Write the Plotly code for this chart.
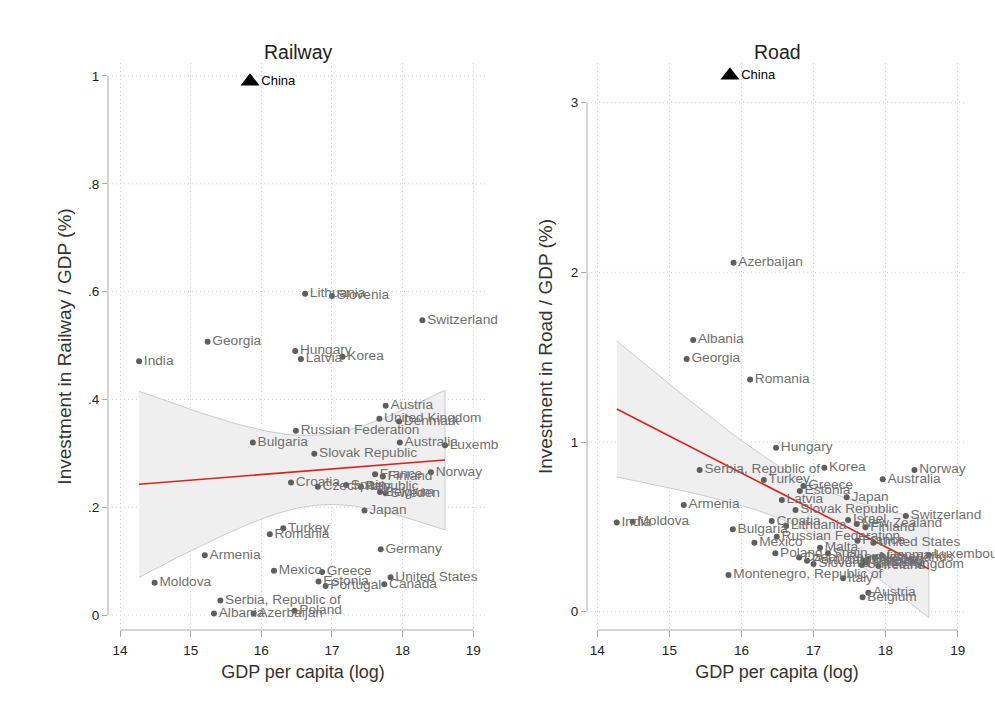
import numpy as np
import pandas as pd
import plotly.graph_objects as go

# ---------------------------------------------------------------------------
# Data: log GDP per capita and infrastructure investment shares (% of GDP)
# None = no observation for that mode
# ---------------------------------------------------------------------------
countries = [
    "Lithuania", "Slovenia", "Switzerland", "Georgia", "India", "Hungary",
    "Latvia", "Korea", "Austria", "United Kingdom", "Denmark",
    "Russian Federation", "Bulgaria", "Australia", "Luxembourg",
    "Slovak Republic", "France", "Finland", "Norway", "Croatia",
    "Czech Republic", "Spain", "Belgium", "Sweden", "Japan", "Turkey",
    "Romania", "Germany", "Armenia", "Mexico", "Greece", "Moldova", "Estonia",
    "Portugal", "United States", "Canada", "Serbia, Republic of", "Albania",
    "Azerbaijan", "Poland", "Israel", "New Zealand", "Malta", "Italy",
    "Montenegro, Republic of", "Ireland", "Netherlands",
]
gdp_log = [
    16.62, 17.00, 18.28, 15.24, 14.27, 16.48,
    16.56, 17.15, 17.76, 17.67, 17.95,
    16.49, 15.88, 17.96, 18.60,
    16.75, 17.61, 17.72, 18.40, 16.42,
    16.80, 17.20, 17.68, 17.76, 17.46, 16.31,
    16.12, 17.69, 15.20, 16.18, 16.86, 14.49, 16.81,
    16.91, 17.83, 17.74, 15.42, 15.33,
    15.89, 16.47, 17.48, 17.60, 17.09, 17.41,
    15.82, 17.90, 17.85,
]
rail_share = [
    0.596, 0.592, 0.547, 0.507, 0.471, 0.490,
    0.475, 0.479, 0.388, 0.364, 0.359,
    0.342, 0.320, 0.320, 0.315,
    0.299, 0.261, 0.257, 0.265, 0.246,
    0.238, 0.241, 0.228, 0.226, 0.194, 0.161,
    0.150, 0.122, 0.111, 0.082, 0.080, 0.060, 0.062,
    0.054, 0.070, 0.057, 0.027, 0.003,
    0.003, 0.008, None, None, None, 0.238,
    None, None, None,
]
road_share = [
    0.505, 0.281, 0.564, 1.489, 0.525, 0.966,
    0.658, 0.849, 0.112, 0.275, 0.330,
    0.442, 0.486, 0.780, 0.334,
    0.599, 0.418, 0.497, 0.835, 0.534,
    0.320, 0.344, 0.085, 0.310, 0.674, 0.776,
    1.369, 0.300, 0.629, 0.407, 0.741, 0.530, 0.711,
    0.300, 0.407, 0.290, 0.835, 1.601,
    2.057, 0.344, 0.540, 0.517, 0.377, 0.197,
    0.216, 0.270, 0.320,
]

# China is drawn with its own marker (it is still part of the fitted sample)
outlier_name = ["China"]
outlier_gdp = [15.84]
outlier_rail = [0.99]
outlier_road = [3.16]

df = pd.DataFrame({"country": countries, "gdp": gdp_log,
                   "rail": rail_share, "road": road_share})
df_out = pd.DataFrame({"country": outlier_name, "gdp": outlier_gdp,
                       "rail": outlier_rail, "road": outlier_road})

W, H = 995, 725
T_CRIT = 2.02  # 95% two-sided t quantile, ~40 d.f.


def linear_fit_ci(x, y, n_grid=120):
    x = np.asarray(x, float)
    y = np.asarray(y, float)
    n = len(x)
    slope, intercept = np.polyfit(x, y, 1)
    resid = y - (intercept + slope * x)
    s2 = np.sum(resid ** 2) / (n - 2)
    sxx = np.sum((x - x.mean()) ** 2)
    xs = np.linspace(x.min(), x.max(), n_grid)
    fit = intercept + slope * xs
    se = np.sqrt(s2 * (1.0 / n + (xs - x.mean()) ** 2 / sxx))
    return xs, fit, fit - T_CRIT * se, fit + T_CRIT * se


def px_x(p):
    return p / W


def px_y(p):
    return 1 - p / H


GRID = "#cdcdcd"
AXIS = "#a8a8a8"
DOT = "#5e5e5e"
LABEL = "#6f6f6f"
FONT = "Arial, Liberation Sans, sans-serif"
PLOT_TOP, PLOT_BOT = 63, 630

# region: plot area in px (grid extent); clip: right edge for label clipping
panels = [
    dict(col="rail", ax="", title="Railway", ytitle="Investment in Railway / GDP (%)",
         region=(108, 488), clip=498, xr=(13.830, 19.350), yr=(-0.0278, 1.0241),
         yt=[0, 0.2, 0.4, 0.6, 0.8, 1.0], ytt=["0", ".2", ".4", ".6", ".8", "1"],
         clip_text=True, ystand=11),
    dict(col="road", ax="2", title="Road", ytitle="Investment in Road / GDP (%)",
         region=(587, 967), clip=967, xr=(13.857, 19.129), yr=(-0.1078, 3.2334),
         yt=[0, 1, 2, 3], ytt=["0", "1", "2", "3"],
         clip_text=False, ystand=13),
]

fig = go.Figure()
layout = dict(
    width=W, height=H, margin=dict(l=0, r=0, t=0, b=0),
    paper_bgcolor="white", plot_bgcolor="white", showlegend=False,
    font=dict(family=FONT, color="#222222"),
)
shapes, annotations = [], []

for p in panels:
    col = p["col"]
    sub = df.dropna(subset=[col])
    xa, ya = "x" + p["ax"], "y" + p["ax"]
    fit_x = pd.concat([sub["gdp"], df_out["gdp"]])
    fit_y = pd.concat([sub[col], df_out[col]])
    xs, fit, lo, hi = linear_fit_ci(fit_x, fit_y)

    # confidence band
    fig.add_trace(go.Scatter(
        x=np.concatenate([xs, xs[::-1]]), y=np.concatenate([hi, lo[::-1]]),
        fill="toself", fillcolor="#efefef", mode="lines",
        line=dict(color="#cccccc", width=1), hoverinfo="skip",
        xaxis=xa, yaxis=ya))
    # fitted line
    fig.add_trace(go.Scatter(
        x=xs, y=fit, mode="lines", line=dict(color="#e0201b", width=1.6),
        xaxis=xa, yaxis=ya))
    # countries
    fig.add_trace(go.Scatter(
        x=sub["gdp"], y=sub[col], text=sub["country"],
        mode="markers+text", textposition="middle right",
        marker=dict(color=DOT, size=6),
        textfont=dict(color=LABEL, size=13.7, family=FONT),
        cliponaxis=p["clip_text"], xaxis=xa, yaxis=ya))
    # China
    fig.add_trace(go.Scatter(
        x=df_out["gdp"], y=df_out[col], text=df_out["country"],
        mode="markers+text", textposition="middle right",
        marker=dict(color="black", size=16.5, symbol="triangle-up"),
        textfont=dict(color="black", size=13, family=FONT),
        cliponaxis=False, xaxis=xa, yaxis=ya))

    x0, x1 = p["region"]
    dom = [px_x(x0), px_x(p["clip"])]
    layout["xaxis" + p["ax"]] = dict(
        domain=dom, range=list(p["xr"]), anchor=ya,
        tickvals=[14, 15, 16, 17, 18, 19], ticks="outside", ticklen=6,
        tickcolor=AXIS, showline=False, zeroline=False,
        showgrid=True, gridcolor=GRID, griddash="1px,3px", gridwidth=1,
        tickfont=dict(size=13.5, color="#1e1e1e"), ticklabelstandoff=2,
        title=dict(text="GDP per capita (log)", font=dict(size=18, color="#333333"),
                   standoff=8),
        automargin=False)
    layout["yaxis" + p["ax"]] = dict(
        domain=[px_y(PLOT_BOT), px_y(PLOT_TOP)], range=list(p["yr"]),
        anchor=xa, tickvals=p["yt"], ticktext=p["ytt"], ticks="outside",
        ticklen=5, tickcolor=AXIS, showline=False, zeroline=False,
        showgrid=False,
        tickfont=dict(size=13.5, color="#1e1e1e"),
        title=dict(text=p["ytitle"], font=dict(size=19, color="#333333"),
                   standoff=p["ystand"]),
        automargin=False)

    # horizontal dotted grid over the plot region only
    for v in p["yt"]:
        shapes.append(dict(type="line", xref="paper", yref=ya, layer="below",
                           x0=px_x(x0 + 4), x1=px_x(x1), y0=v, y1=v,
                           line=dict(color=GRID, width=1, dash="1px,3px")))
    # Stata-style axis lines spanning only the labelled range
    shapes.append(dict(type="line", xref="paper", yref=ya,
                       x0=dom[0], x1=dom[0], y0=p["yt"][0], y1=p["yt"][-1],
                       line=dict(color=AXIS, width=1)))
    shapes.append(dict(type="line", xref=xa, yref="paper",
                       x0=14, x1=19, y0=px_y(PLOT_BOT), y1=px_y(PLOT_BOT),
                       line=dict(color=AXIS, width=1)))
    annotations.append(dict(text=p["title"], xref="paper", yref="paper",
                            x=px_x((x0 + x1) / 2), y=px_y(52), showarrow=False,
                            font=dict(size=19.5, color="#222222"),
                            xanchor="center", yanchor="middle"))

layout["shapes"] = shapes
layout["annotations"] = annotations
fig.update_layout(**layout)
fig.write_html("out.html")
